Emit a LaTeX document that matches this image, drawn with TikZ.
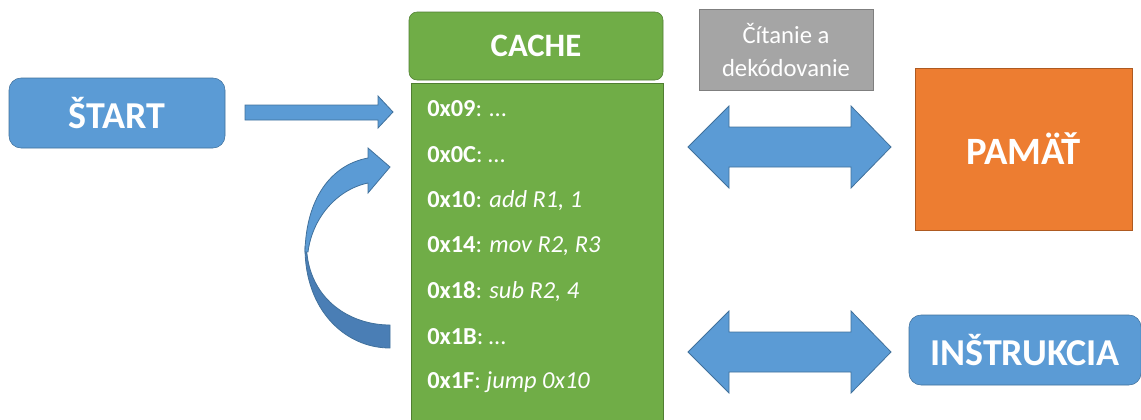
\documentclass[tikz,border=0pt]{standalone}
\usepackage{fontspec}
\setmainfont{Carlito}
\usetikzlibrary{positioning}

\definecolor{boxblue}{HTML}{5B9BD5}
\definecolor{lineblue}{HTML}{41719C}
\definecolor{darkblue}{HTML}{4A7EB5}
\definecolor{cachegreen}{HTML}{70AD47}
\definecolor{linegreen}{HTML}{507E32}
\definecolor{boxgray}{HTML}{A5A5A5}
\definecolor{linegray}{HTML}{7F7F7F}
\definecolor{memorange}{HTML}{ED7D31}
\definecolor{lineorange}{HTML}{AE5A21}

\begin{document}
\begin{tikzpicture}[x=0.75pt,y=-0.75pt,
  bluebox/.style={draw=lineblue,fill=boxblue,rounded corners=9pt,text=white,
    font=\fontsize{28.5}{32}\selectfont\bfseries},
  greenbox/.style={draw=linegreen,fill=cachegreen,text=white},
  codeline/.style={anchor=west,text=white,inner sep=0pt,
    font=\fontsize{18.3}{21}\selectfont},
  blockarrow/.style={draw=lineblue,fill=boxblue,line width=0.6pt}]

\useasboundingbox (0,0) rectangle (1141,419);

% boxes
\node[bluebox,minimum width=162pt,minimum height=52.5pt] (start) at (117,113) {ŠTART};
\node[greenbox,rounded corners=6pt,minimum width=190.5pt,minimum height=51pt,
  font=\fontsize{24.5}{28}\selectfont\bfseries] (cache) at (536,46) {CACHE};
\node[greenbox,minimum width=189pt,minimum height=262.5pt] (body) at (537,258) {};
\node[draw=linegray,fill=boxgray,text=white,align=center,
  minimum width=130.5pt,minimum height=60.75pt,
  font=\fontsize{18.5}{24.75}\selectfont] (read) at (786,49.5) {Čítanie a\\dekódovanie};
\node[draw=lineorange,fill=memorange,text=white,minimum width=162.75pt,minimum height=121.5pt,
  font=\fontsize{29}{32}\selectfont\bfseries] (mem) at (1023.5,149) {PAMÄŤ};
\node[bluebox,minimum width=174pt,minimum height=52.5pt] (instr) at (1025,350) {INŠTRUKCIA};

% cache content
\foreach \txt [count=\i from 0] in {{\textbf{0x09}: …},{\textbf{0x0C}: …},
    {\textbf{0x10}: \textit{add R1, 1}},{\textbf{0x14}: \textit{mov R2, R3}},
    {\textbf{0x18}: \textit{sub R2, 4}},{\textbf{0x1B}: …},{\textbf{0x1F}: \textit{jump 0x10}}}
  \node[codeline] (line\i) at (427,109+45.6*\i) {\txt};

% arrow from start
\draw[blockarrow] (245,105) -- (378,105) -- (378,96) -- (393,112) -- (378,128)
  -- (378,120) -- (245,120) -- cycle;

% loop arrow
\draw[blockarrow,fill=darkblue] (305,248) .. controls (305,310) and (345,348) .. (390,348)
  -- (390,325) .. controls (350,325) and (312,300) .. (307,254) -- cycle;
\draw[blockarrow] (305,252) .. controls (306,200) and (330,165) .. (368,158)
  -- (368,148) -- (390,167) -- (368,193) -- (368,183)
  .. controls (335,190) and (312,220) .. (308,252) -- cycle;

% double arrows to memory and instruction
\foreach \y in {147,352}
  \draw[blockarrow] (688,\y) -- (729,\y-41) -- (729,\y-20) -- (851,\y-20) -- (851,\y-41)
    -- (891,\y) -- (851,\y+41) -- (851,\y+20) -- (729,\y+20) -- (729,\y+41) -- cycle;

\end{tikzpicture}
\end{document}
